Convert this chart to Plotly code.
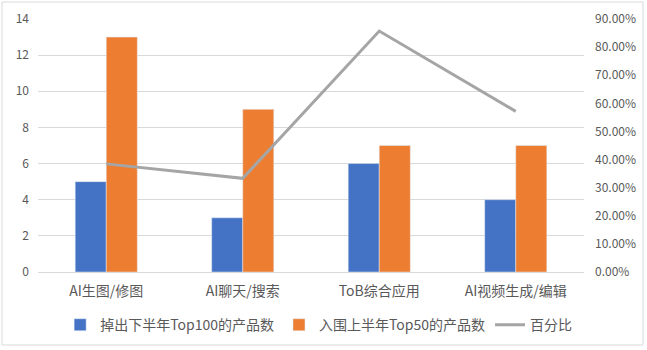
import plotly.graph_objects as go

categories = ["AI生图/修图", "AI聊天/搜索", "ToB综合应用", "AI视频生成/编辑"]
dropped = [5, 3, 6, 4]
entered = [13, 9, 7, 7]
ratio = [0.3846, 0.3333, 0.8571, 0.5714]

names = ["掉出下半年Top100的产品数", "入围上半年Top50的产品数", "百分比"]
left_ticks = [0, 2, 4, 6, 8, 10, 12, 14]
right_ticks = [0, 0.1, 0.2, 0.3, 0.4, 0.5, 0.6, 0.7, 0.8, 0.9]

font = dict(family="Noto Sans CJK SC, Microsoft YaHei, sans-serif", size=12, color="#595959")

fig = go.Figure()
fig.add_trace(go.Bar(x=categories, y=dropped, name=names[0], marker_color="#4472C4"))
fig.add_trace(go.Bar(x=categories, y=entered, name=names[1], marker_color="#ED7D31"))
fig.add_trace(go.Scatter(x=categories, y=ratio, name=names[2], yaxis="y2", mode="lines",
                         line=dict(color="#A5A5A5", width=3)))

fig.update_layout(
    width=647, height=350,
    margin=dict(l=38, r=63, t=19, b=78, autoexpand=False),
    paper_bgcolor="white", plot_bgcolor="white",
    font=font,
    barmode="group", bargap=0.545, bargroupgap=0,
    xaxis=dict(showline=True, linecolor="#D9D9D9", ticks="", showgrid=False,
               tickfont=dict(size=14), automargin=False, ticklabelstandoff=6),
    yaxis=dict(range=[0, 14], tickvals=left_ticks, showgrid=True, gridcolor="#D9D9D9",
               zeroline=False, ticks="", ticklabelstandoff=8, automargin=False),
    yaxis2=dict(range=[0, 0.9], tickvals=right_ticks, tickformat=".2%", overlaying="y",
                side="right", showgrid=False, zeroline=False, ticks="", ticklabelstandoff=10,
                automargin=False),
    legend=dict(orientation="h", x=0.514, xanchor="center", y=-0.21, yanchor="middle",
                font=dict(size=14), traceorder="normal", itemwidth=30),
    shapes=[dict(type="rect", xref="paper", yref="paper",
                 x0=-36/546, x1=1 + 59/546, y0=-73/253, y1=1 + 17/253,
                 line=dict(color="#D9D9D9", width=1), fillcolor="rgba(0,0,0,0)")],
)

fig.write_html("out.html")
